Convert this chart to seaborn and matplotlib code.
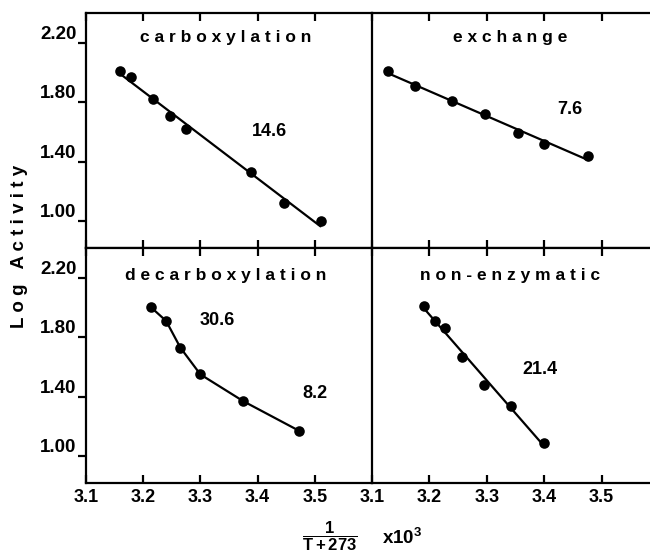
import numpy as np
import pandas as pd
import matplotlib
matplotlib.use('Agg')
import matplotlib.pyplot as plt
import seaborn as sns

# valores (1/(T+273) x 10^3 , log da atividade)
carbox_x = [3.159, 3.178, 3.217, 3.246, 3.275, 3.389, 3.447, 3.510]
carbox_y = [2.01, 1.97, 1.82, 1.71, 1.62, 1.33, 1.12, 1.00]

exch_x = [3.128, 3.175, 3.239, 3.296, 3.354, 3.400, 3.477]
exch_y = [2.01, 1.91, 1.81, 1.72, 1.59, 1.52, 1.44]

decarb_x = [3.214, 3.240, 3.265, 3.300, 3.375, 3.473]
decarb_y = [2.00, 1.91, 1.73, 1.55, 1.37, 1.17]

nonenz_x = [3.191, 3.209, 3.228, 3.257, 3.295, 3.342, 3.399]
nonenz_y = [2.01, 1.91, 1.86, 1.67, 1.48, 1.34, 1.09]

x_ticks = [3.1, 3.2, 3.3, 3.4, 3.5]
y_ticks = [1.00, 1.40, 1.80, 2.20]
y_tick_labels = ['1.00', '1.40', '1.80', '2.20']

sns.set_style('ticks')
plt.rcParams['font.family'] = ['Liberation Sans', 'DejaVu Sans']
plt.rcParams['font.weight'] = 'bold'
plt.rcParams['text.color'] = 'black'
plt.rcParams['axes.labelcolor'] = 'black'
plt.rcParams['xtick.color'] = 'black'
plt.rcParams['ytick.color'] = 'black'
plt.rcParams['mathtext.fontset'] = 'custom'
plt.rcParams['mathtext.rm'] = 'Liberation Sans:bold'
plt.rcParams['mathtext.bf'] = 'Liberation Sans:bold'
plt.rcParams['mathtext.it'] = 'Liberation Sans:bold'


def espacar(txt):
    return ' '.join(txt)


fig = plt.figure(figsize=(6.5, 5.55), dpi=100)

W, H = 650.0, 555.0
xl, xm, xr = 86 / W, 372 / W, 1.0
yt, yd, yb = 1 - 13 / H, 1 - 248 / H, 1 - 483 / H

ax_tl = fig.add_axes([xl, yd, xm - xl, yt - yd])
ax_tr = fig.add_axes([xm, yd, xr - xm, yt - yd])
ax_bl = fig.add_axes([xl, yb, xm - xl, yd - yb])
ax_br = fig.add_axes([xm, yb, xr - xm, yd - yb])

lw = 1.6
ms = 58
pontos = {'s': ms, 'zorder': 3, 'alpha': 1, 'linewidths': 0}

# carboxylation
sns.regplot(x=carbox_x, y=carbox_y, ax=ax_tl, ci=None, truncate=True,
            color='black', scatter_kws=pontos, line_kws={'lw': lw})
# exchange
sns.regplot(x=exch_x, y=exch_y, ax=ax_tr, ci=None, truncate=True,
            color='black', scatter_kws=pontos, line_kws={'lw': lw})
# decarboxylation (linha ligando os pontos)
sns.lineplot(x=decarb_x, y=decarb_y, ax=ax_bl, color='black', lw=lw)
sns.scatterplot(x=decarb_x, y=decarb_y, ax=ax_bl, color='black', s=ms,
                linewidth=0, zorder=3)
# non-enzymatic
sns.regplot(x=nonenz_x, y=nonenz_y, ax=ax_br, ci=None, truncate=True,
            color='black', scatter_kws=pontos, line_kws={'lw': lw})

for ax in [ax_tl, ax_tr, ax_bl, ax_br]:
    ax.set_ylim(0.82, 2.40)
    ax.set_xticks(x_ticks)
    ax.tick_params(axis='x', direction='in', top=True, bottom=True,
                   length=6, width=lw, labelsize=13, pad=4)
    ax.spines['right'].set_visible(False)
    for s in ['left', 'top', 'bottom']:
        ax.spines[s].set_linewidth(lw)
        ax.spines[s].set_color('black')
    ax.set_xlabel('')
    ax.set_ylabel('')

ax_tl.set_xlim(3.1, 3.6)
ax_bl.set_xlim(3.1, 3.6)
ax_tr.set_xlim(3.1, 3.1 + 278 / 574)
ax_br.set_xlim(3.1, 3.1 + 278 / 574)

for ax in [ax_tl, ax_tr]:
    ax.tick_params(axis='x', labelbottom=False)

for ax in [ax_tl, ax_bl]:
    ax.set_yticks(y_ticks)
    ax.set_yticklabels(y_tick_labels)
    ax.tick_params(axis='y', direction='out', length=6, width=lw,
                   labelsize=13.5, pad=1)
    for t in ax.get_yticklabels():
        t.set_verticalalignment('bottom')

for ax in [ax_tr, ax_br]:
    ax.set_yticks(y_ticks)
    ax.tick_params(axis='y', left=False, labelleft=False)

for ax in [ax_bl, ax_br]:
    ax.set_xticklabels([f'{v:.1f}' for v in x_ticks], fontweight='bold')

# titulos dos paineis
tkw = dict(fontsize=12.5, fontweight='bold', ha='center', va='center')
ax_tl.text(3.345, 2.235, espacar('carboxylation'), **tkw)
ax_tr.text(3.340, 2.235, espacar('exchange'), **tkw)
ax_bl.text(3.345, 2.215, espacar('decarboxylation'), **tkw)
ax_br.text(3.340, 2.215, espacar('non-enzymatic'), **tkw)

# energias de ativacao
nkw = dict(fontsize=13, fontweight='bold', ha='center', va='center')
ax_tl.text(3.420, 1.60, '14.6', **nkw)
ax_tr.text(3.445, 1.75, '7.6', **nkw)
ax_bl.text(3.330, 1.91, '30.6', **nkw)
ax_bl.text(3.500, 1.42, '8.2', **nkw)
ax_br.text(3.392, 1.58, '21.4', **nkw)

fig.text(20 / W, 1 - 246 / H, espacar('Log') + '   ' + espacar('Activity'),
         rotation=90, ha='center', va='center', fontsize=13.5,
         fontweight='bold')

fig.text(330 / W, 1 - 536 / H, r'$\dfrac{1}{T+273}$', ha='center',
         va='center', fontsize=12)
fig.text(382 / W, 1 - 538 / H, r'x10$^{3}$', ha='left', va='center',
         fontsize=13.5, fontweight='bold')

fig.savefig('out.png', dpi=100)
